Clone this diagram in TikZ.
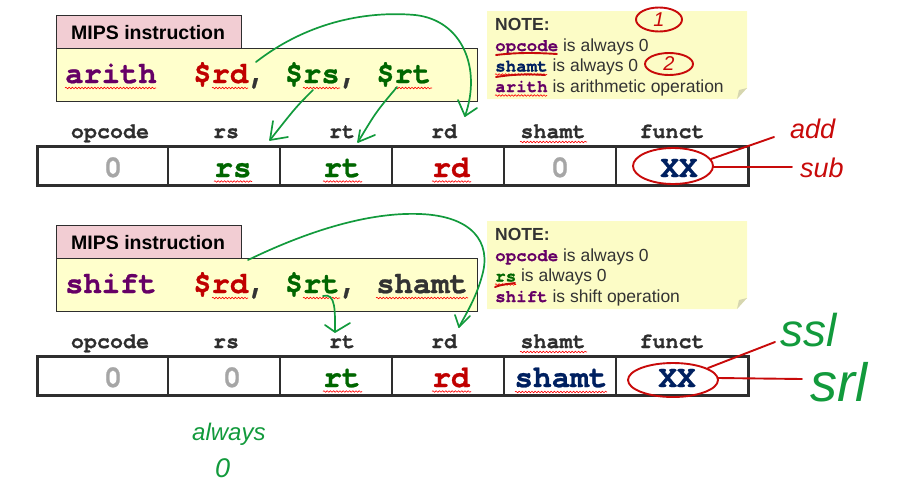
\documentclass[tikz,border=0pt]{standalone}
\usepackage{fontspec}
\setmainfont{Liberation Sans}
\newfontfamily\mono{TeX Gyre Cursor}[BoldFeatures={FakeBold=0.8}]
\usetikzlibrary{decorations.pathmorphing,calc}
\definecolor{purp}{HTML}{660066}
\definecolor{regred}{HTML}{C00000}
\definecolor{reggreen}{HTML}{006600}
\definecolor{navy}{HTML}{002060}
\definecolor{zero}{HTML}{A6A6A6}
\definecolor{labgray}{HTML}{2E2E2E}
\definecolor{notegray}{HTML}{333333}
\definecolor{tabpink}{HTML}{F2CDD3}
\definecolor{instyel}{HTML}{FFFFCC}
\definecolor{noteyel}{HTML}{FCFCC6}
\definecolor{fold}{HTML}{D6D6B0}
\definecolor{handgreen}{HTML}{129A3C}
\definecolor{handred}{HTML}{C80A0A}
\begin{document}
\begin{tikzpicture}[x=1pt,y=-1pt,
  inst/.style={font=\mono\bfseries\fontsize{30.5}{36}\selectfont, inner sep=0, anchor=base west},
  lab/.style={font=\mono\bfseries\fontsize{21.7}{26}\selectfont, text=labgray, inner sep=0, anchor=base},
  val/.style={font=\mono\bfseries\fontsize{31}{36}\selectfont, inner sep=0, anchor=base},
  notetxt/.style={font=\fontsize{17.5}{21}\selectfont, text=notegray, inner sep=0, anchor=base west},
  tabtxt/.style={font=\bfseries\fontsize{19.5}{23}\selectfont, text=black, inner sep=0, anchor=base west},
  squig/.style={draw=red, line width=0.6pt, decorate, decoration={snake, segment length=3.2pt, amplitude=0.8pt}},
  hgreen/.style={draw=handgreen, line width=1.7pt, line cap=round, line join=round},
  hred/.style={draw=handred, line width=1.9pt, line cap=round, line join=round},
  handtxt/.style={font=\itshape, inner sep=0},
  boxline/.style={draw=labgray, line width=1pt},
  rowline/.style={draw=labgray, line width=3pt},
  divline/.style={draw=labgray, line width=2pt}
]
\useasboundingbox (0,0) rectangle (899,485);

% ============ TOP ============
\filldraw[fill=tabpink, boxline] (56,15) rectangle (241,48);
\node[tabtxt] (tab1) at (71,39) {MIPS instruction};
\filldraw[fill=instyel, boxline] (56,48) rectangle (477,101);
\node[inst, text=purp] (op1) at (65,83) {arith};
\node[inst, text=regred] (rdA) at ({65+7*18.3},83) {\$rd};
\node[inst, text=notegray] (c1a) at ({65+10*18.3},83) {,};
\node[inst, text=reggreen] (rsA) at ({65+12*18.3},83) {\$rs};
\node[inst, text=notegray] (c1b) at ({65+15*18.3},83) {,};
\node[inst, text=reggreen] (rtA) at ({65+17*18.3},83) {\$rt};
\draw[squig] (65,88) -- (156,88);
\draw[squig] (212,88) -- (248,88);
\draw[squig] (303,88) -- (340,88);
\draw[squig] (395,88) -- (432,88);

\fill[noteyel] (487,11) -- (747,11) -- (747,88) -- (737,99) -- (487,99) -- cycle;
\fill[fold] (737,99) -- (739,90) -- (747,88) -- cycle;
\node[notetxt, font=\bfseries\fontsize{17.5}{21}\selectfont] (n1) at (495,30) {NOTE:};
\node[notetxt] (n2) at (495,51) {{\mono\bfseries\color{purp}opcode} is always 0};
\node[notetxt] (n3) at (495,71.5) {{\mono\bfseries\color{navy}shamt} is always 0};
\node[notetxt] (n4) at (495,92) {{\mono\bfseries\color{purp}arith} is arithmetic operation};
\draw[squig] (495,74.5) -- (547,74.5);
\draw[squig] (495,95.5) -- (547,95.5);

\node[lab] (opL1) at (110,138) {opcode};
\node[lab] (rsL1) at (226,138) {rs};
\node[lab] (rtL1) at (342,138) {rt};
\node[lab] (rdL1) at (444,138) {rd};
\node[lab] (shL1) at (553,138) {shamt};
\node[lab] (fnL1) at (672,138) {funct};
\draw[squig] (520,142) -- (587,142);

\draw[rowline] (37,146) rectangle (748,185);
\foreach \xx in {168,280,392,504,616} \draw[divline] (\xx,146) -- (\xx,185);
\node[val, text=zero] (v1a) at (113,177) {0};
\node[val, text=reggreen] (v1b) at (233,177) {rs};
\node[val, text=reggreen] (v1c) at (342,177) {rt};
\node[val, text=regred] (v1d) at (451,177) {rd};
\node[val, text=zero] (v1e) at (560,177) {0};
\node[val, text=navy] (v1f) at (679,177) {XX};
\draw[squig] (214,181.5) -- (252,181.5);
\draw[squig] (323,181.5) -- (362,181.5);
\draw[squig] (432,181.5) -- (471,181.5);

\coordinate (a1s) at (256,62);
\coordinate (a1e) at (465,116);
\draw[hgreen] (a1s) .. controls (310,20) and (370,11) .. (415,15) .. controls (462,20) and (482,68) .. (a1e);
\draw[hgreen] (458,100) -- (a1e) -- (477,108);
\coordinate (a2s) at (313,90);
\coordinate (a2e) at (270,140);
\draw[hgreen] (a2s) .. controls (296,107) .. (a2e);
\draw[hgreen] (273,121) -- (a2e) -- (288,137);
\coordinate (a3s) at (397,87);
\coordinate (a3e) at (358,142);
\draw[hgreen] (a3s) .. controls (376,112) .. (a3e);
\draw[hgreen] (360,130) -- (a3e) -- (375,135);

\draw[hred] (659,19.5) ellipse [x radius=23, y radius=12];
\node[handtxt, text=handred, font=\itshape\fontsize{20}{24}\selectfont] (one) at (659,20) {1};
\draw[hred] (669,64) ellipse [x radius=24, y radius=11];
\node[handtxt, text=handred, font=\itshape\fontsize{20}{24}\selectfont] (two) at (669,64) {2};
\draw[hred] (496,55) .. controls (520,52) and (540,53) .. (557,54);
\draw[hred] (496,77) .. controls (515,74) and (530,74) .. (545,75);
\draw[hred] (673,166) ellipse [x radius=40, y radius=18];
\coordinate (addc) at (774,137);
\coordinate (subc) at (792,167);
\draw[hred] (711,159) -- (addc);
\draw[hred] (713,167) -- (subc);
\node[handtxt, text=handred, font=\itshape\fontsize{27}{30}\selectfont, anchor=base west] (add) at (790,138) {add};
\node[handtxt, text=handred, font=\itshape\fontsize{27}{30}\selectfont, anchor=base west] (sub) at (800,177) {sub};

% ============ BOTTOM ============
\filldraw[fill=tabpink, boxline] (56,225) rectangle (241,258);
\node[tabtxt] (tab2) at (71,249) {MIPS instruction};
\filldraw[fill=instyel, boxline] (56,258) rectangle (477,311);
\node[inst, text=purp] (op2) at (65,293) {shift};
\node[inst, text=regred] (rdB) at ({65+7*18.3},293) {\$rd};
\node[inst, text=notegray] (c2a) at ({65+10*18.3},293) {,};
\node[inst, text=reggreen] (rtB) at ({65+12*18.3},293) {\$rt};
\node[inst, text=notegray] (c2b) at ({65+15*18.3},293) {,};
\node[inst, text=notegray] (shB) at ({65+17*18.3},293) {shamt};
\draw[squig] (212,298) -- (248,298);
\draw[squig] (303,298) -- (340,298);
\draw[squig] (376,298) -- (468,298);

\fill[noteyel] (487,221) -- (747,221) -- (747,298) -- (737,309) -- (487,309) -- cycle;
\fill[fold] (737,309) -- (739,300) -- (747,298) -- cycle;
\node[notetxt, font=\bfseries\fontsize{17.5}{21}\selectfont] (m1) at (495,240) {NOTE:};
\node[notetxt] (m2) at (495,261) {{\mono\bfseries\color{purp}opcode} is always 0};
\node[notetxt] (m3) at (495,281.5) {{\mono\bfseries\color{reggreen}rs} is always 0};
\node[notetxt] (m4) at (495,302) {{\mono\bfseries\color{purp}shift} is shift operation};
\draw[squig] (495,284.5) -- (516,284.5);

\node[lab] (opL2) at (110,348) {opcode};
\node[lab] (rsL2) at (226,348) {rs};
\node[lab] (rtL2) at (342,348) {rt};
\node[lab] (rdL2) at (444,348) {rd};
\node[lab] (shL2) at (553,348) {shamt};
\node[lab] (fnL2) at (672,348) {funct};
\draw[squig] (520,352) -- (587,352);

\draw[rowline] (37,356) rectangle (748,395);
\foreach \xx in {168,280,392,504,616} \draw[divline] (\xx,356) -- (\xx,395);
\node[val, text=zero] (v2a) at (113,387) {0};
\node[val, text=zero] (v2b) at (232,387) {0};
\node[val, text=reggreen] (v2c) at (342,387) {rt};
\node[val, text=regred] (v2d) at (451,387) {rd};
\node[val, text=navy] (v2e) at (561,387) {shamt};
\node[val, text=navy] (v2f) at (677,387) {XX};
\draw[squig] (323,391.5) -- (362,391.5);
\draw[squig] (432,391.5) -- (471,391.5);
\draw[squig] (515,392) -- (607,392);

\coordinate (b1s) at (248,260);
\coordinate (b1e) at (459,327);
\draw[hgreen] (b1s) .. controls (310,230) and (370,212) .. (420,214) .. controls (472,216) and (492,242) .. (482,276) .. controls (476,298) and (466,314) .. (b1e);
\draw[hgreen] (455,315) -- (b1e) -- (470,316);
\coordinate (b2s) at (323,296);
\coordinate (b2e) at (335,332);
\draw[hgreen] (b2s) .. controls (336,292) and (335,312) .. (b2e);
\draw[hgreen] (325,325) -- (b2e) -- (350,323);

\draw[hred] (495,287) .. controls (503,284) and (509,284) .. (515,283);
\draw[hred] (673,380) ellipse [x radius=45, y radius=17];
\coordinate (sslc) at (775,342);
\coordinate (srlc) at (802,379);
\draw[hred] (708,368) -- (sslc);
\draw[hred] (718,378) -- (srlc);
\node[handtxt, text=handgreen, font=\itshape\fontsize{46}{50}\selectfont, anchor=base west] (ssl) at (780,346) {ssl};
\node[handtxt, text=handgreen, font=\itshape\fontsize{54}{58}\selectfont, anchor=base west] (srl) at (810,401) {srl};
\node[handtxt, text=handgreen, font=\itshape\fontsize{24}{28}\selectfont, anchor=base west] (alw) at (192,440) {always};
\node[handtxt, text=handgreen, font=\itshape\fontsize{27}{30}\selectfont, anchor=base west] (zer) at (215,477) {0};
\end{tikzpicture}
\end{document}
